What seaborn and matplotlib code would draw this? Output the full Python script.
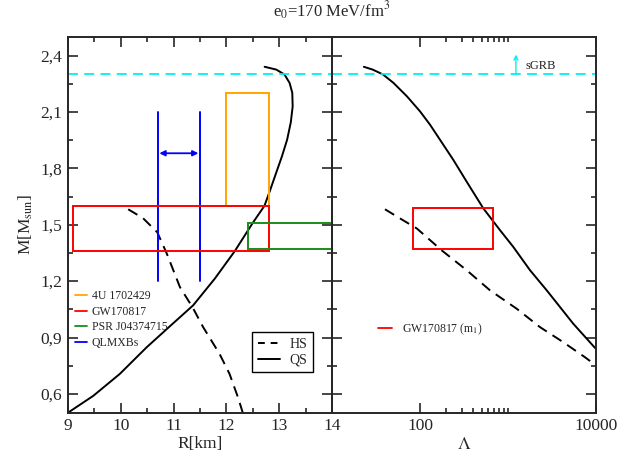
import matplotlib
matplotlib.use("Agg")
import pandas as pd
import matplotlib.pyplot as plt
import seaborn as sns
from matplotlib.lines import Line2D
from matplotlib.patches import Rectangle
from matplotlib.ticker import FixedLocator, FuncFormatter, NullFormatter

# mass-radius curves (left panel)
qs_radius = [9.0, 9.48, 9.98, 10.49, 10.93, 11.37, 11.78, 12.16, 12.50, 12.72, 12.83,
             12.94, 13.05, 13.15, 13.22, 13.255, 13.248, 13.197, 13.10, 12.945, 12.724]
qs_mass_r = [0.50, 0.59, 0.706, 0.848, 0.96, 1.071, 1.213, 1.36, 1.51, 1.60, 1.685,
             1.774, 1.862, 1.952, 2.045, 2.129, 2.201, 2.254, 2.299, 2.325, 2.34]
hs_radius = [10.14, 10.42, 10.69, 10.87, 11.12, 11.36, 11.56, 11.87, 12.06, 12.22, 12.31]
hs_mass_r = [1.582, 1.535, 1.46, 1.347, 1.168, 1.06, 0.955, 0.813, 0.706, 0.581, 0.50]

# mass-tidal deformability curves (right panel)
qs_lambda = [23, 29, 38, 50, 71, 100, 130, 239, 339, 524, 811, 1148, 1778, 2754,
             3900, 5521, 10000]
qs_mass_l = [2.34, 2.325, 2.299, 2.254, 2.183, 2.103, 2.032, 1.845, 1.729, 1.587,
             1.471, 1.382, 1.258, 1.151, 1.062, 0.973, 0.839]
hs_lambda = [40, 59, 92, 176, 339, 624, 1256, 2312, 4246, 7499, 10000]
hs_mass_l = [1.582, 1.534, 1.480, 1.364, 1.258, 1.151, 1.053, 0.955, 0.875, 0.795, 0.751]

# observational constraints (R-M boxes)
box_names = ["4U 1702429", "GW170817", "PSR J04374715"]
box_r_lo = [12.0, 9.1, 12.4]
box_r_hi = [12.8, 12.8, 14.3]
box_m_lo = [1.6, 1.36, 1.37]
box_m_hi = [2.2, 1.6, 1.51]
qlmxb_radius = [10.7, 11.5]
qlmxb_mass = [1.2, 2.1]
qlmxb_arrow_mass = 1.88

# GW170817 m1 box in Lambda-M
gw_lambda = [84, 670]
gw_mass = [1.37, 1.59]

sgrb_mass = 2.3
sgrb_arrow_lambda = 1230
sgrb_arrow_top = 2.405

COLORS = {
    "4U 1702429": "#FFA500",
    "GW170817": "#FF0000",
    "PSR J04374715": "#1A8C1A",
    "QLMXBs": "#0000FF",
}
CYAN = "#00F0F0"

sns.set_style("ticks")
plt.rcParams["font.family"] = ["Liberation Serif", "DejaVu Serif"]
plt.rcParams["mathtext.fontset"] = "stix"

fig = plt.figure(figsize=(6.19, 4.57), dpi=100)
ax_mr = fig.add_axes([68 / 619, 44.3 / 457, 264 / 619, 376 / 457])
ax_ml = fig.add_axes([332 / 619, 44.3 / 457, 264 / 619, 376 / 457])
ax_ml.patch.set_visible(False)

dash = (5.5, 3.5)

# ---- left panel: M(R)
qs_df = pd.DataFrame({"R": qs_radius, "M": qs_mass_r})
hs_df = pd.DataFrame({"R": hs_radius, "M": hs_mass_r})
sns.lineplot(data=qs_df, x="R", y="M", sort=False, estimator=None,
             color="black", lw=1.4, ax=ax_mr)
sns.lineplot(data=hs_df, x="R", y="M", sort=False, estimator=None,
             color="black", lw=1.4, ax=ax_mr)
ax_mr.lines[-1].set_dashes(dash)

for name, r0, r1, m0, m1 in zip(box_names, box_r_lo, box_r_hi, box_m_lo, box_m_hi):
    ax_mr.add_patch(Rectangle((r0, m0), r1 - r0, m1 - m0, fill=False,
                              edgecolor=COLORS[name], lw=1.4, zorder=3))
for r in qlmxb_radius:
    ax_mr.plot([r, r], qlmxb_mass, color=COLORS["QLMXBs"], lw=1.4)
ax_mr.annotate("", xy=(qlmxb_radius[0] + 0.03, qlmxb_arrow_mass),
               xytext=(qlmxb_radius[1] - 0.03, qlmxb_arrow_mass),
               arrowprops=dict(arrowstyle="<|-|>", color=COLORS["QLMXBs"], lw=1.3,
                               mutation_scale=8, shrinkA=0, shrinkB=0))
ax_mr.axhline(sgrb_mass, color=CYAN, lw=1.3, dashes=dash)

obs_handles = [Line2D([], [], color=COLORS[k], lw=1.3) for k in COLORS]
leg1 = ax_mr.legend(obs_handles, list(COLORS), loc="upper left",
                    bbox_to_anchor=(0.026, 0.326), frameon=False, fontsize=8.5,
                    handlelength=1.0, handletextpad=0.45, labelspacing=0.3,
                    borderaxespad=0, borderpad=0)
ax_mr.add_artist(leg1)

eos_handles = [Line2D([], [], color="black", lw=1.4, dashes=(3.5, 3)),
               Line2D([], [], color="black", lw=1.4)]
leg2 = ax_mr.legend(eos_handles, ["HS", "QS"], loc="upper left",
                    bbox_to_anchor=(0.698, 0.214), fontsize=10, fancybox=False,
                    edgecolor="black", framealpha=1, handlelength=1.6,
                    handletextpad=0.7, labelspacing=0.2, borderpad=0.4,
                    borderaxespad=0)
leg2.get_frame().set_linewidth(1.0)

ax_mr.set_xlim(9, 14)
ax_mr.set_ylim(0.5, 2.5)
ax_mr.xaxis.set_major_locator(FixedLocator([9, 10, 11, 12, 13, 14]))
ax_mr.xaxis.set_minor_locator(FixedLocator([9.5, 10.5, 11.5, 12.5, 13.5]))
ax_mr.set_xlabel("R[km]", fontsize=12.5, labelpad=1)
ax_mr.set_ylabel(r"M[M$_{\mathrm{sun}}$]", fontsize=12.5, labelpad=4)

# ---- right panel: M(Lambda)
qsl_df = pd.DataFrame({"L": qs_lambda, "M": qs_mass_l})
hsl_df = pd.DataFrame({"L": hs_lambda, "M": hs_mass_l})
ax_ml.set_xscale("log")
sns.lineplot(data=qsl_df, x="L", y="M", sort=False, estimator=None,
             color="black", lw=1.4, ax=ax_ml)
sns.lineplot(data=hsl_df, x="L", y="M", sort=False, estimator=None,
             color="black", lw=1.4, ax=ax_ml)
ax_ml.lines[-1].set_dashes(dash)

ax_ml.add_patch(Rectangle((gw_lambda[0], gw_mass[0]), gw_lambda[1] - gw_lambda[0],
                          gw_mass[1] - gw_mass[0], fill=False,
                          edgecolor=COLORS["GW170817"], lw=1.4, zorder=3))
ax_ml.axhline(sgrb_mass, color=CYAN, lw=1.3, dashes=dash)
ax_ml.annotate("", xy=(sgrb_arrow_lambda, sgrb_arrow_top),
               xytext=(sgrb_arrow_lambda, sgrb_mass),
               arrowprops=dict(arrowstyle="->", color=CYAN, lw=1.0,
                               mutation_scale=7, shrinkA=0, shrinkB=0))
ax_ml.text(sgrb_arrow_lambda * 1.27, sgrb_mass + 0.012, "sGRB", fontsize=9,
           va="bottom", ha="left", color="#222222")

ax_ml.legend([Line2D([], [], color=COLORS["GW170817"], lw=1.3)],
             [r"GW170817 (m$_1$)"], loc="upper left",
             bbox_to_anchor=(0.174, 0.243), frameon=False, fontsize=8.5,
             handlelength=1.2, handletextpad=0.8, borderaxespad=0, borderpad=0)

ax_ml.set_xlim(10, 10000)
ax_ml.set_ylim(0.5, 2.5)
ax_ml.xaxis.set_major_locator(FixedLocator([100, 10000]))
ax_ml.xaxis.set_minor_locator(FixedLocator([200, 300, 400, 500, 600, 700, 800, 900, 1000]))
ax_ml.xaxis.set_major_formatter(FuncFormatter(lambda v, p: f"{v:.0f}"))
ax_ml.xaxis.set_minor_formatter(NullFormatter())
ax_ml.set_xlabel(r"$\Lambda$", fontsize=13, labelpad=1)
ax_ml.set_ylabel("")
ax_ml.yaxis.set_major_formatter(NullFormatter())

comma = FuncFormatter(lambda v, p: f"{v:.1f}".replace(".", ","))
for ax in (ax_mr, ax_ml):
    ax.yaxis.set_major_locator(FixedLocator([0.6, 0.9, 1.2, 1.5, 1.8, 2.1, 2.4]))
    ax.yaxis.set_minor_locator(FixedLocator([0.75, 1.05, 1.35, 1.65, 1.95, 2.25]))
    ax.tick_params(which="both", direction="in", top=True, right=True,
                   width=1.2, labelsize=12.5, pad=4)
    ax.tick_params(which="major", length=7)
    ax.tick_params(which="minor", length=3.5)
    for s in ax.spines.values():
        s.set_linewidth(1.4)
ax_mr.yaxis.set_major_formatter(comma)

fig.text(332 / 619, 1 - 11 / 457, r"e$_0$=170 MeV/fm$^3$", ha="center",
         va="center", fontsize=12)

fig.savefig("out.png", dpi=100)
plt.close(fig)
